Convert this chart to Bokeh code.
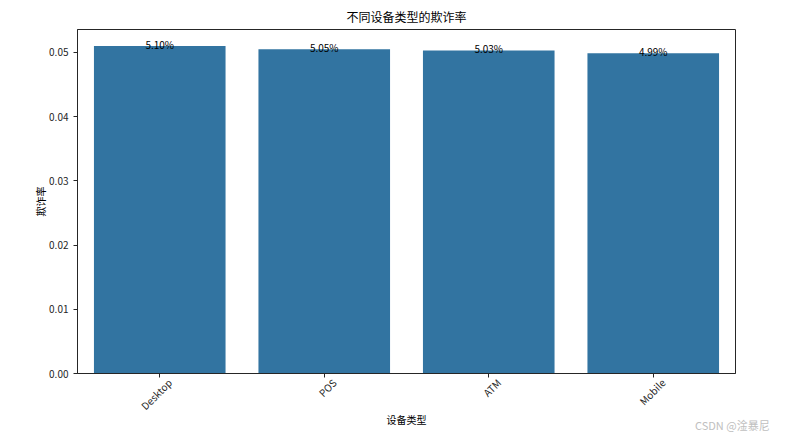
import math
from bokeh.plotting import figure
from bokeh.layouts import column
from bokeh.core.properties import value
from bokeh.models import (Range1d, FixedTicker, NumeralTickFormatter, LinearAxis,
                          Div, ColumnDataSource)
from bokeh.embed import file_html
from bokeh.resources import INLINE

devices = ["Desktop", "POS", "ATM", "Mobile"]
fraud_rate = [0.0510, 0.0505, 0.0503, 0.0499]
rate_labels = ["5.10%", "5.05%", "5.03%", "4.99%"]
y_ticks = [0.0, 0.01, 0.02, 0.03, 0.04, 0.05]

FONT = "Noto Sans CJK SC"
TXT = "#262626"
FRAME_W = 658
n = len(devices)
pos = list(range(n))

src = ColumnDataSource(dict(x=pos, dev=devices, rate=fraud_rate, lab=rate_labels))

p = figure(frame_width=FRAME_W, frame_height=344, x_range=Range1d(-0.5, n - 0.5),
           y_range=Range1d(0, 0.05358), x_axis_location=None,
           output_backend="svg", toolbar_location=None,
           min_border_left=77, min_border_right=56, min_border_top=28, min_border_bottom=66)

p.vbar(x="x", top="rate", width=0.8, source=src, fill_color="#3274a1", line_color=None)
p.text(x="x", y="rate", text="lab", source=src, text_align="center", text_baseline="middle",
       y_offset=-2, text_font_size="10px", text_font=value(FONT), text_color="black")

p.title.text = "不同设备类型的欺诈率"
p.title.align = "center"
p.title.text_font = FONT
p.title.text_font_size = "12px"
p.title.text_font_style = "normal"
p.title.text_color = "black"
p.title.offset = 0

# axis with the tick marks at each category
tick_axis = LinearAxis(ticker=FixedTicker(ticks=pos),
                       major_label_overrides={i: "" for i in pos})
p.add_layout(tick_axis, "below")

# shifted axis carrying the rotated category labels (centred under each tick)
shift = 10.0 * n / FRAME_W
p.extra_x_ranges = {"lab": Range1d(-0.5 - shift, n - 0.5 - shift)}
lab_axis = LinearAxis(x_range_name="lab", ticker=FixedTicker(ticks=pos),
                      major_label_overrides={i: d for i, d in zip(pos, devices)},
                      axis_label="设备类型")
p.add_layout(lab_axis, "below")

p.yaxis.axis_label = "欺诈率"
for ax in (tick_axis, lab_axis, p.yaxis[0]):
    ax.axis_label_text_font = FONT
    ax.axis_label_text_font_size = "10px"
    ax.axis_label_text_font_style = "normal"
    ax.axis_label_text_color = "black"
    ax.major_label_text_font = FONT
    ax.major_label_text_font_size = "10px"
    ax.major_label_text_color = TXT
    ax.axis_line_color = "#262626"
    ax.major_tick_line_color = "#262626"
    ax.major_tick_out = 4
    ax.major_tick_in = 0
    ax.minor_tick_line_color = None

p.yaxis.ticker = FixedTicker(ticks=y_ticks)
p.yaxis.formatter = NumeralTickFormatter(format="0.00")
p.yaxis.axis_label_standoff = -2

tick_axis.major_label_standoff = 0

lab_axis.axis_line_color = None
lab_axis.major_tick_line_color = None
lab_axis.major_tick_out = 0
lab_axis.major_label_orientation = math.pi / 4
lab_axis.major_label_standoff = 3
lab_axis.axis_label_standoff = -9

p.xgrid.grid_line_color = None
p.ygrid.grid_line_color = None
p.outline_line_color = "#262626"
p.outline_line_width = 1

wm = Div(text="CSDN @淦暴尼",
         styles={"position": "absolute", "left": "690px", "top": "413px",
                 "color": "#c0c0c0", "font-size": "11px", "font-family": FONT,
                 "white-space": "nowrap"})

layout = column(p, wm, spacing=0)
open("out.html", "w").write(file_html(layout, INLINE))
